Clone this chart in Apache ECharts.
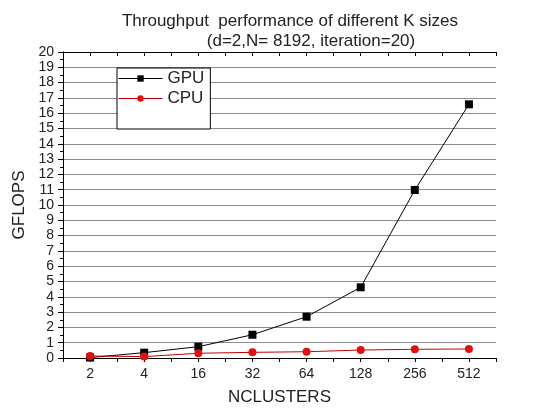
<!DOCTYPE html>
<html>
<head>
<meta charset="utf-8">
<script src="https://cdn.jsdelivr.net/npm/echarts@6/dist/echarts.min.js"></script>
<style>
  html, body { margin: 0; padding: 0; background: #fff; }
  #chart { width: 544px; height: 420px; }
</style>
</head>
<body>
<div id="chart"></div>
<script>
// data
var categories = ['2', '4', '16', '32', '64', '128', '256', '512'];
var gpu = [0.03, 0.35, 0.74, 1.52, 2.7, 4.62, 10.98, 16.58];
var cpu = [0.13, 0.09, 0.31, 0.37, 0.41, 0.52, 0.57, 0.59];
var yTicks = [0, 20, 1];

var font = 'Liberation Sans, Arial, sans-serif';
var chart = echarts.init(document.getElementById('chart'));

// helper axis used only for the tick marks (centers + boundaries)
function tickAxis(pos, inside) {
  return {
    type: 'value',
    position: pos,
    min: 0,
    max: categories.length,
    interval: 0.5,
    axisLine: { show: true, lineStyle: { color: '#000', width: 1 } },
    axisTick: { show: true, inside: inside, length: 4, lineStyle: { color: '#000' } },
    axisLabel: { show: false },
    splitLine: { show: false }
  };
}

var option = {
  backgroundColor: '#fff',
  animation: false,
  title: [{
    text: 'Throughput  performance of different K sizes',
    left: 285,
    top: 8,
    textAlign: 'center',
    textStyle: { fontFamily: font, fontSize: 17, fontWeight: 'normal', color: '#222' }
  }, {
    text: '(d=2,N= 8192, iteration=20)',
    left: 306,
    top: 28,
    textAlign: 'center',
    textStyle: { fontFamily: font, fontSize: 17, fontWeight: 'normal', color: '#222' }
  }],
  legend: {
    orient: 'vertical',
    left: 117,
    top: 68,
    padding: [2, 6, 22, 1],
    itemGap: 3,
    itemWidth: 44,
    itemHeight: 8,
    lineStyle: { width: 1 },
    backgroundColor: '#fff',
    borderColor: '#000',
    borderWidth: 1,
    borderRadius: 0,
    textStyle: { fontFamily: font, fontSize: 17, color: '#222', padding: [0, 0, 0, 0] },
    data: ['GPU', 'CPU']
  },
  grid: { left: 63, right: 48, top: 52, bottom: 62 },
  xAxis: [{
    type: 'category',
    data: categories,
    boundaryGap: true,
    position: 'bottom',
    name: 'NCLUSTERS',
    nameLocation: 'middle',
    nameGap: 31,
    nameTextStyle: { fontFamily: font, fontSize: 17, color: '#222' },
    axisLine: { show: true, lineStyle: { color: '#000' } },
    axisTick: { show: false },
    axisLabel: { fontFamily: font, fontSize: 14, color: '#222', margin: 9 },
    splitLine: { show: false }
  },
  tickAxis('bottom', false),
  tickAxis('top', true)],
  yAxis: [{
    type: 'value',
    min: yTicks[0],
    max: yTicks[1],
    interval: yTicks[2],
    position: 'left',
    name: 'GFLOPS',
    nameLocation: 'middle',
    nameGap: 34,
    nameTextStyle: { fontFamily: font, fontSize: 17, color: '#222' },
    axisLine: { show: true, lineStyle: { color: '#000' } },
    axisTick: { show: true, inside: false, length: 5, lineStyle: { color: '#000' } },
    minorTick: { show: true, splitNumber: 2, length: 3, lineStyle: { color: '#000' } },
    axisLabel: { fontFamily: font, fontSize: 14, color: '#222', margin: 9 },
    splitLine: { show: true, lineStyle: { color: '#8c8c8c', width: 1 } }
  }, {
    type: 'value',
    min: yTicks[0],
    max: yTicks[1],
    interval: yTicks[2],
    position: 'right',
    axisLine: { show: true, lineStyle: { color: '#000' } },
    axisTick: { show: true, inside: true, length: 4, lineStyle: { color: '#000' } },
    minorTick: { show: true, splitNumber: 2, length: 3, lineStyle: { color: '#000' } },
    axisLabel: { show: false },
    splitLine: { show: false }
  }],
  series: [{
    name: 'GPU',
    type: 'line',
    data: gpu,
    symbol: 'rect',
    symbolSize: 8,
    color: '#000',
    lineStyle: { color: '#000', width: 1 },
    itemStyle: { color: '#000' },
    z: 3
  }, {
    name: 'CPU',
    type: 'line',
    data: cpu,
    symbol: 'circle',
    symbolSize: 8,
    color: '#e01010',
    lineStyle: { color: '#c00000', width: 1 },
    itemStyle: { color: '#e01010' },
    z: 4
  }]
};

chart.setOption(option);
</script>
</body>
</html>
